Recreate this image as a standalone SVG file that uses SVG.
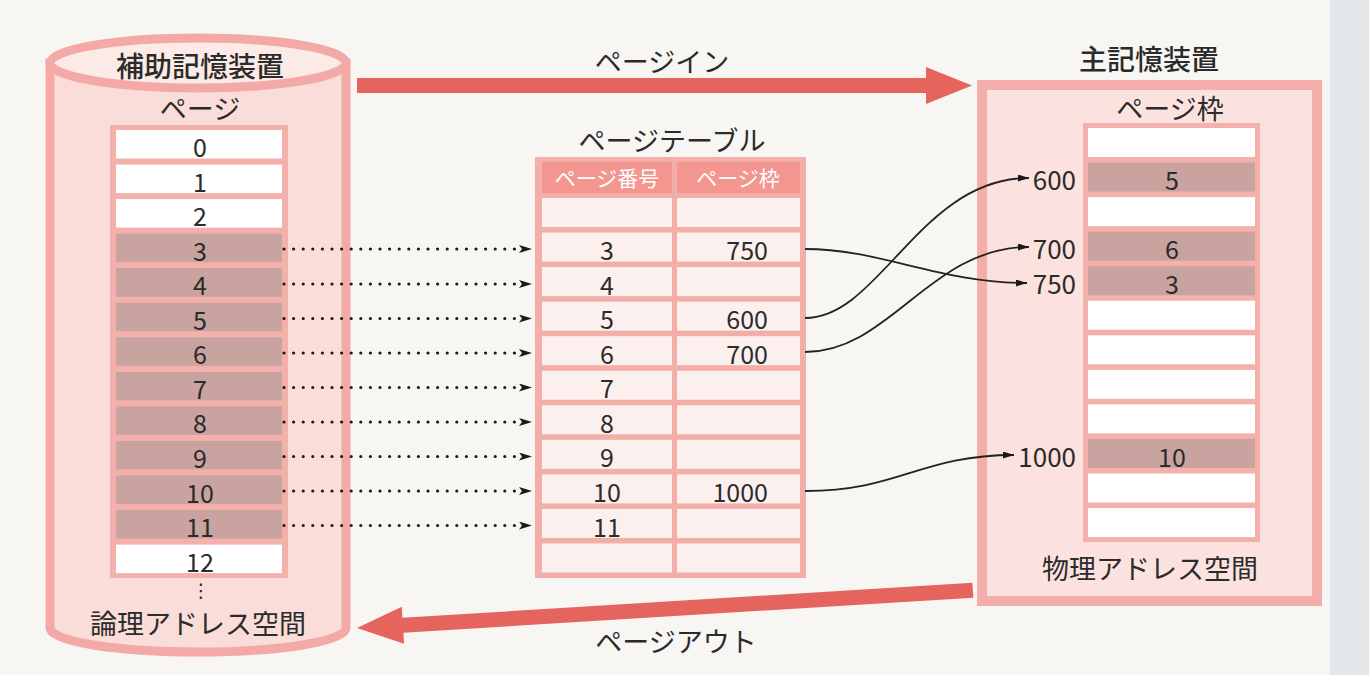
<svg xmlns="http://www.w3.org/2000/svg" width="1369" height="675" viewBox="0 0 1369 675">
<defs>
<style>
text{font-family:'Noto Sans CJK JP','Noto Sans',sans-serif;fill:#2b2b2b;dominant-baseline:central}
.t{font-size:27px;text-anchor:middle}
.tb{font-size:28px;text-anchor:middle;font-weight:500}
.n{font-size:25px;text-anchor:middle}
.ne{font-size:25px;text-anchor:end}
.rl{font-size:26px;text-anchor:end}
.hd{font-size:21px;text-anchor:middle;fill:#ffffff}
.w{fill:#ffffff}
.g{fill:#c9a3a0}
.c{fill:#fcf0ee}
.dot{stroke:#1a1a1a;stroke-width:3.2;stroke-linecap:round;stroke-dasharray:0 9.6;fill:none}
.cv{stroke:#222;stroke-width:1.8;fill:none}
.red{fill:#e6645e}
</style>
<marker id="ah" markerUnits="userSpaceOnUse" markerWidth="13" markerHeight="8" refX="13" refY="4" orient="auto">
<path d="M0,0 L13,4 L0,8 L3,4 Z" fill="#1a1a1a"/>
</marker>
<marker id="ah2" markerUnits="userSpaceOnUse" markerWidth="11" markerHeight="7" refX="11" refY="3.5" orient="auto">
<path d="M0,0 L11,3.5 L0,7 Z" fill="#1a1a1a"/>
</marker>
</defs>
<rect x="0" y="0" width="1369" height="675" fill="#f8f6f3"/>
<rect x="1330" y="0" width="39" height="675" fill="#e4e7ea"/>

<g id="secondary-storage">
<path d="M50,63 V628 A148,24 0 0 0 346,628 V63 Z" fill="#fadcd8" stroke="#f3aaa6" stroke-width="9"/>
<ellipse cx="198" cy="63" rx="148" ry="25" fill="#fceae7" stroke="#f3aaa6" stroke-width="9"/>
<text class="tb" x="200" y="65">補助記憶装置</text>
<text class="t" x="200" y="107">ページ</text>
<rect x="110" y="125" width="178" height="453" fill="#f4b0ab"/>
<rect class="w" x="116" y="130" width="166" height="28.5"/>
<rect class="w" x="116" y="164.55" width="166" height="28.5"/>
<rect class="w" x="116" y="199.1" width="166" height="28.5"/>
<rect class="g" x="116" y="233.65" width="166" height="28.5"/>
<rect class="g" x="116" y="268.2" width="166" height="28.5"/>
<rect class="g" x="116" y="302.75" width="166" height="28.5"/>
<rect class="g" x="116" y="337.3" width="166" height="28.5"/>
<rect class="g" x="116" y="371.85" width="166" height="28.5"/>
<rect class="g" x="116" y="406.4" width="166" height="28.5"/>
<rect class="g" x="116" y="440.95" width="166" height="28.5"/>
<rect class="g" x="116" y="475.5" width="166" height="28.5"/>
<rect class="g" x="116" y="510.05" width="166" height="28.5"/>
<rect class="w" x="116" y="544.6" width="166" height="28.5"/>
<text class="n" x="200" y="146">0</text>
<text class="n" x="200" y="180.5">1</text>
<text class="n" x="200" y="215">2</text>
<text class="n" x="200" y="249.6">3</text>
<text class="n" x="200" y="284">4</text>
<text class="n" x="200" y="318.7">5</text>
<text class="n" x="200" y="353.3">6</text>
<text class="n" x="200" y="387.8">7</text>
<text class="n" x="200" y="422.4">8</text>
<text class="n" x="200" y="457">9</text>
<text class="n" x="200" y="491.5">10</text>
<text class="n" x="200" y="526">11</text>
<text class="n" x="200" y="560.6">12</text>
<text x="201" y="590" style="font-family:'DejaVu Sans',sans-serif;font-size:19px;text-anchor:middle">⋮</text>
<text class="t" x="198" y="622">論理アドレス空間</text>
</g>

<g id="page-table">
<text class="t" x="672" y="139">ページテーブル</text>
<rect x="535" y="157" width="271" height="421" fill="#f4aea9"/>
<rect x="542" y="162" width="130" height="31" fill="#f2968f"/>
<rect x="677" y="162" width="123" height="31" fill="#f2968f"/>
<text class="hd" x="607" y="177">ページ番号</text>
<text class="hd" x="738" y="177">ページ枠</text>
<g class="c">
<rect x="542" y="198" width="130" height="29"/><rect x="677" y="198" width="123" height="29"/>
<rect x="542" y="232.55" width="130" height="29"/><rect x="677" y="232.55" width="123" height="29"/>
<rect x="542" y="267.1" width="130" height="29"/><rect x="677" y="267.1" width="123" height="29"/>
<rect x="542" y="301.65" width="130" height="29"/><rect x="677" y="301.65" width="123" height="29"/>
<rect x="542" y="336.2" width="130" height="29"/><rect x="677" y="336.2" width="123" height="29"/>
<rect x="542" y="370.75" width="130" height="29"/><rect x="677" y="370.75" width="123" height="29"/>
<rect x="542" y="405.3" width="130" height="29"/><rect x="677" y="405.3" width="123" height="29"/>
<rect x="542" y="439.85" width="130" height="29"/><rect x="677" y="439.85" width="123" height="29"/>
<rect x="542" y="474.4" width="130" height="29"/><rect x="677" y="474.4" width="123" height="29"/>
<rect x="542" y="508.95" width="130" height="29"/><rect x="677" y="508.95" width="123" height="29"/>
<rect x="542" y="543.5" width="130" height="29"/><rect x="677" y="543.5" width="123" height="29"/>
</g>
<text class="n" x="607" y="249">3</text>
<text class="n" x="607" y="283.6">4</text>
<text class="n" x="607" y="318.2">5</text>
<text class="n" x="607" y="352.7">6</text>
<text class="n" x="607" y="387.3">7</text>
<text class="n" x="607" y="421.8">8</text>
<text class="n" x="607" y="456.4">9</text>
<text class="n" x="607" y="490.9">10</text>
<text class="n" x="607" y="525.5">11</text>
<text class="ne" x="768" y="249">750</text>
<text class="ne" x="768" y="318.2">600</text>
<text class="ne" x="768" y="352.7">700</text>
<text class="ne" x="768" y="490.9">1000</text>
</g>

<g id="main-memory">
<text class="tb" x="1149" y="58">主記憶装置</text>
<rect x="982" y="85" width="335" height="516" fill="#fbe2de" stroke="#f4aea9" stroke-width="10"/>
<text class="t" x="1170" y="107">ページ枠</text>
<rect x="1083" y="123" width="177" height="419" fill="#f4b0ab"/>
<rect class="w" x="1088" y="128" width="167" height="29"/>
<rect class="g" x="1088" y="162.55" width="167" height="29"/>
<rect class="w" x="1088" y="197.1" width="167" height="29"/>
<rect class="g" x="1088" y="231.65" width="167" height="29"/>
<rect class="g" x="1088" y="266.2" width="167" height="29"/>
<rect class="w" x="1088" y="300.75" width="167" height="29"/>
<rect class="w" x="1088" y="335.3" width="167" height="29"/>
<rect class="w" x="1088" y="369.85" width="167" height="29"/>
<rect class="w" x="1088" y="404.4" width="167" height="29"/>
<rect class="g" x="1088" y="438.95" width="167" height="29"/>
<rect class="w" x="1088" y="473.5" width="167" height="29"/>
<rect class="w" x="1088" y="508.05" width="167" height="29"/>
<text class="n" x="1172" y="179">5</text>
<text class="n" x="1172" y="248">6</text>
<text class="n" x="1172" y="282.7">3</text>
<text class="n" x="1172" y="455.5">10</text>
<text class="rl" x="1076" y="178">600</text>
<text class="rl" x="1076" y="247">700</text>
<text class="rl" x="1076" y="282">750</text>
<text class="rl" x="1076" y="455">1000</text>
<text class="t" x="1150" y="567">物理アドレス空間</text>
</g>

<g id="page-in">
<rect class="red" x="357" y="78" width="575" height="15"/>
<polygon class="red" points="926,67 972,85.5 926,104"/>
<text class="t" x="662" y="60">ページイン</text>
</g>

<g id="page-out">
<g transform="translate(357,628) rotate(-3.5)">
<polygon class="red" points="0,0 46,-18.5 46,18.5"/>
<rect class="red" x="42" y="-7.5" width="575" height="15"/>
</g>
<text class="t" x="676" y="640">ページアウト</text>
</g>

<g id="connectors">
<path class="dot" d="M284,249 H532" marker-end="url(#ah)"/>
<path class="dot" d="M284,284 H532" marker-end="url(#ah)"/>
<path class="dot" d="M284,318.5 H532" marker-end="url(#ah)"/>
<path class="dot" d="M284,353 H532" marker-end="url(#ah)"/>
<path class="dot" d="M284,387.5 H532" marker-end="url(#ah)"/>
<path class="dot" d="M284,422 H532" marker-end="url(#ah)"/>
<path class="dot" d="M284,456.5 H532" marker-end="url(#ah)"/>
<path class="dot" d="M284,491 H532" marker-end="url(#ah)"/>
<path class="dot" d="M284,525.5 H532" marker-end="url(#ah)"/>
<path class="cv" d="M805,249 C880,249 940,283 1027,283" marker-end="url(#ah2)"/>
<path class="cv" d="M805,318 C880,318 920,178 1029,178" marker-end="url(#ah2)"/>
<path class="cv" d="M805,352 C890,352 930,247 1029,247" marker-end="url(#ah2)"/>
<path class="cv" d="M805,491 C900,491 920,455 1014,455" marker-end="url(#ah2)"/>
</g>
</svg>
